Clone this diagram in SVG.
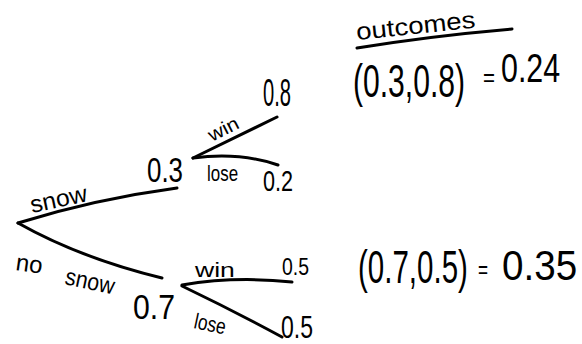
<svg xmlns="http://www.w3.org/2000/svg" width="582" height="344" viewBox="0 0 582 344">
<style>
.ln{fill:none;stroke:#000;stroke-width:3;stroke-linecap:round;stroke-linejoin:round}
.t{font-family:"Liberation Sans","DejaVu Sans",sans-serif;fill:#000}
</style>
<rect width="582" height="344" fill="#fff"/>
<g id="connectors">
<path class="ln" d="M18,223 Q95,199 177,188"/>
<path class="ln" d="M18,223 Q80,258 162,278"/>
<path class="ln" d="M193,158 L277,117"/>
<path class="ln" d="M193,158 Q240,152 278,165"/>
<path class="ln" d="M182,285 Q235,276 292,282"/>
<path class="ln" d="M182,286 Q232,310 282,337"/>
<path class="ln" d="M357,48 Q430,36 512,29"/>
</g>
<g id="root">
<text class="t" font-size="24" transform="translate(32 213) rotate(-12) scale(1.03 1)">snow</text>
<text class="t" font-size="24" transform="translate(15 270) rotate(8)">no</text>
<text class="t" font-size="24" transform="translate(64 284) rotate(12) scale(0.89 1)">snow</text>
</g>
<g id="node-snow">
<text class="t" font-size="35" transform="translate(147 182) scale(0.74 1)">0.3</text>
<text class="t" font-size="19" transform="translate(212 142) rotate(-27) scale(1.12 1)">win</text>
<text class="t" font-size="22" transform="translate(207 181) scale(0.77 1)">lose</text>
</g>
<g id="leaf-win-1">
<text class="t" font-size="38" transform="translate(263 106) scale(0.53 1)">0.8</text>
</g>
<g id="leaf-lose-1">
<text class="t" font-size="30" transform="translate(263 191) scale(0.72 1)">0.2</text>
</g>
<g id="node-nosnow">
<text class="t" font-size="36" transform="translate(133 319) scale(0.84 1)">0.7</text>
<text class="t" font-size="20" transform="translate(195 277) scale(1.33 1)">win</text>
<text class="t" font-size="22" transform="translate(193 328) rotate(12) scale(0.79 1)">lose</text>
</g>
<g id="leaf-win-2">
<text class="t" font-size="24" transform="translate(282 275) scale(0.81 1)">0.5</text>
</g>
<g id="leaf-lose-2">
<text class="t" font-size="32" transform="translate(281 338) scale(0.72 1)">0.5</text>
</g>
<g id="outcomes">
<text class="t" font-size="24" transform="translate(357 40) rotate(-6) scale(1.15 1)">outcomes</text>
<text class="t" font-size="46" transform="translate(353 97) scale(0.654 1)">(0.3,0.8)</text>
<text class="t" font-size="26" transform="translate(483 86) scale(0.79 1)">=</text>
<text class="t" font-size="40" transform="translate(501 82) scale(0.76 1)">0.24</text>
<text class="t" font-size="46" transform="translate(358 283) scale(0.642 1)">(0.7,0.5)</text>
<text class="t" font-size="26" transform="translate(478 278) scale(0.66 1)">=</text>
<text class="t" font-size="42" transform="translate(502 280) scale(0.92 1)">0.35</text>
</g>
</svg>
